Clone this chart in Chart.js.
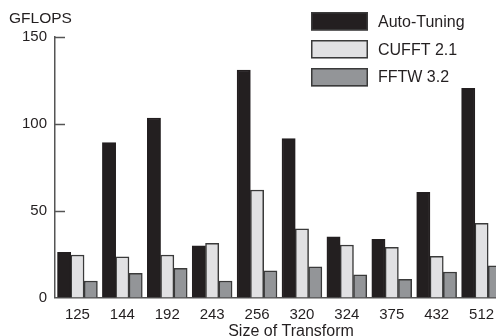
<!DOCTYPE html>
<html>
<head>
<meta charset="utf-8">
<script src="https://cdn.jsdelivr.net/npm/chart.js@4.4.0/dist/chart.umd.min.js"></script>
<style>
    html, body { margin: 0; padding: 0; overflow: hidden; background: #fff; }
    #wrap { position: relative; width: 510px; height: 336px; }
</style>
</head>
<body>
<div id="wrap"><canvas id="fftChart" width="510" height="336"></canvas></div>
<script>
const sizes = ['125', '144', '192', '243', '256', '320', '324', '375', '432', '512'];
const autoTuning = [26.0, 89.2, 103.4, 29.7, 131.0, 91.5, 35.0, 33.5, 60.6, 120.5];
const cufft = [24.5, 23.5, 24.5, 31.2, 61.9, 39.5, 30.2, 28.9, 23.7, 42.7];
const fftw = [9.5, 13.9, 16.8, 9.5, 15.4, 17.7, 13.1, 10.5, 14.7, 18.3];
const yTicks = [0, 50, 100, 150];

const TEXT = '#231f20';
const AXIS = '#555555';
const EDGE = '#3a3a3a';
const FONT = '"Liberation Sans", Arial, sans-serif';

// Draws the inward y tick marks, the GFLOPS label, the x title and the legend
const extras = {
    id: 'extras',
    afterDraw(chart) {
        const { ctx, chartArea, scales } = chart;
        ctx.save();

        // inward tick marks on the y axis
        ctx.strokeStyle = AXIS;
        ctx.lineWidth = 1.5;
        yTicks.forEach(v => {
            if (v === 0) return;
            const py = Math.round(scales.y.getPixelForValue(v)) + 0.5;
            ctx.beginPath();
            ctx.moveTo(chartArea.left, py);
            ctx.lineTo(chartArea.left + 10, py);
            ctx.stroke();
        });

        ctx.fillStyle = TEXT;
        ctx.textBaseline = 'alphabetic';
        ctx.font = '15.5px ' + FONT;
        ctx.textAlign = 'left';
        ctx.fillText('GFLOPS', 9, 22.7);

        ctx.font = '16px ' + FONT;
        ctx.textAlign = 'center';
        ctx.fillText('Size of Transform', 291, 335.5);

        // legend, one item per row
        ctx.textAlign = 'left';
        chart.data.datasets.forEach((ds, i) => {
            const top = 12 + i * 28;
            ctx.fillStyle = ds.backgroundColor;
            ctx.fillRect(311, top, 57, 18.5);
            ctx.strokeStyle = EDGE;
            ctx.lineWidth = 1.5;
            ctx.strokeRect(311.75, top + 0.75, 55.5, 17);
            ctx.fillStyle = TEXT;
            ctx.fillText(ds.label, 378, 27.3 + i * 27.5);
        });

        ctx.restore();
    }
};

function makeDataset(label, values, color, edge) {
    return {
        label: label,
        data: values,
        backgroundColor: color,
        borderColor: edge,
        borderWidth: 1.5,
        inflateAmount: 0.3,
        categoryPercentage: 0.89,
        barPercentage: 1.0
    };
}

new Chart(document.getElementById('fftChart'), {
    type: 'bar',
    data: {
        labels: sizes,
        datasets: [
            makeDataset('Auto-Tuning', autoTuning, '#231f20', '#231f20'),
            makeDataset('CUFFT 2.1', cufft, '#e1e1e3', EDGE),
            makeDataset('FFTW 3.2', fftw, '#939598', EDGE)
        ]
    },
    options: {
        responsive: false,
        animation: false,
        layout: { padding: { top: 37, right: 6, left: 0, bottom: 0 } },
        plugins: { legend: { display: false }, tooltip: { enabled: false } },
        scales: {
            x: {
                grid: { display: false, drawTicks: false },
                border: { display: true, color: AXIS, width: 1.5 },
                ticks: { color: TEXT, font: { family: FONT, size: 15 }, padding: 8, maxRotation: 0 },
                afterFit: s => { s.height = 38.5; }
            },
            y: {
                min: 0,
                max: 150,
                grid: { display: false, drawTicks: false },
                border: { display: true, color: AXIS, width: 1.5 },
                ticks: {
                    stepSize: 50,
                    color: TEXT,
                    font: { family: FONT, size: 15 },
                    padding: 8
                },
                afterFit: s => { s.width = 55; }
            }
        }
    },
    plugins: [extras]
});
</script>
</body>
</html>
